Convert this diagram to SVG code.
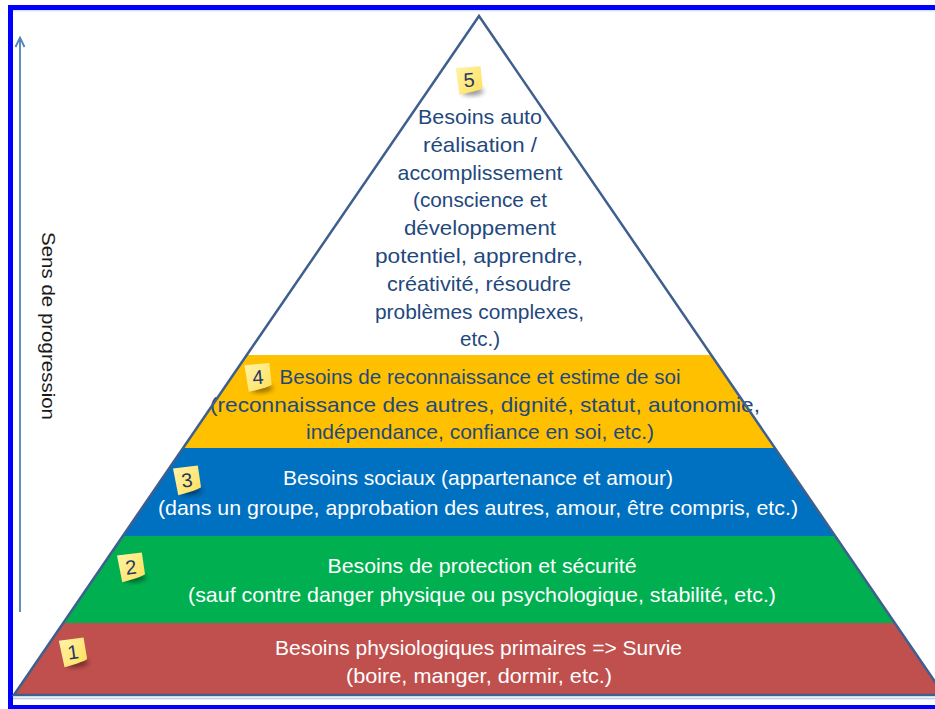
<svg xmlns="http://www.w3.org/2000/svg" width="935" height="709" viewBox="0 0 935 709">
  <defs>
    <style>
      .t { font-family: "Liberation Sans", Arial, sans-serif; font-size: 21px; text-anchor: middle; }
      .dark { fill: #1F497D; }
      .light { fill: #FFFFFF; }
      .num { font-family: "Liberation Sans", Arial, sans-serif; font-size: 20px; text-anchor: middle; fill: #1F3864; }
      .note { fill: url(#noteGrad); }
      .shadow { fill: #000; opacity: 0.45; filter: url(#blur); }
    </style>
    <linearGradient id="noteGrad" x1="0" y1="0" x2="1" y2="1">
      <stop offset="0" stop-color="#FFF3A6"/>
      <stop offset="1" stop-color="#FFDF5C"/>
    </linearGradient>
    <filter id="blur" x="-50%" y="-50%" width="200%" height="200%">
      <feGaussianBlur stdDeviation="2.5"/>
    </filter>
    <symbol id="badge" overflow="visible">
      <ellipse class="shadow" cx="3" cy="12" rx="11" ry="3.5"/>
      <path class="note" d="M-12.5,-13 L12.5,-13 L13,9 Q9,11.5 -10.5,14 Z"/>
    </symbol>
  </defs>

  <rect width="935" height="709" fill="#FFFFFF"/>

  <!-- frame -->
  <rect x="10.5" y="7.5" width="940" height="700" fill="none" stroke="#0000FF" stroke-width="5"/>
  <line x1="13" y1="698.5" x2="935" y2="698.5" stroke="#B8CCE4" stroke-width="1.5"/>
  <line x1="13" y1="10.8" x2="935" y2="10.8" stroke="#C6D9F1" stroke-width="1"/>

  <g id="level5">
    <polygon points="479,16 246.8,355 711.2,355" fill="#FFFFFF"/>
    <g transform="translate(469,80) rotate(-4)"><use href="#badge"/><text class="num" x="0" y="7">5</text></g>
    <text class="t dark" x="480" y="124" textLength="124" lengthAdjust="spacingAndGlyphs">Besoins auto</text>
    <text class="t dark" x="480" y="151.8" textLength="114" lengthAdjust="spacingAndGlyphs">réalisation /</text>
    <text class="t dark" x="480" y="179.6" textLength="165" lengthAdjust="spacingAndGlyphs">accomplissement</text>
    <text class="t dark" x="480" y="207.4" textLength="134" lengthAdjust="spacingAndGlyphs">(conscience et</text>
    <text class="t dark" x="480" y="235.2" textLength="152" lengthAdjust="spacingAndGlyphs">développement</text>
    <text class="t dark" x="479" y="263" textLength="208" lengthAdjust="spacingAndGlyphs">potentiel, apprendre,</text>
    <text class="t dark" x="479" y="290.8" textLength="184" lengthAdjust="spacingAndGlyphs">créativité, résoudre</text>
    <text class="t dark" x="479.5" y="318.6" textLength="209" lengthAdjust="spacingAndGlyphs">problèmes complexes,</text>
    <text class="t dark" x="480" y="346.4" textLength="40" lengthAdjust="spacingAndGlyphs">etc.)</text>
  </g>

  <g id="level4">
    <polygon points="246.8,355 711.2,355 774.9,448 183.1,448" fill="#FFC000"/>
    <text class="t dark" x="480" y="384" textLength="401" lengthAdjust="spacingAndGlyphs">Besoins de reconnaissance et estime de soi</text>
    <text class="t dark" x="485" y="411.5" textLength="550" lengthAdjust="spacingAndGlyphs">(reconnaissance des autres, dignité, statut, autonomie,</text>
    <text class="t dark" x="480" y="439" textLength="348" lengthAdjust="spacingAndGlyphs">indépendance, confiance en soi, etc.)</text>
    <g transform="translate(258,377) rotate(-5)"><use href="#badge"/><text class="num" x="0" y="7">4</text></g>
  </g>

  <g id="level3">
    <polygon points="183.1,448 774.9,448 835.2,536 122.8,536" fill="#0070C0"/>
    <text class="t light" x="478" y="485" textLength="390" lengthAdjust="spacingAndGlyphs">Besoins sociaux (appartenance et amour)</text>
    <text class="t light" x="478" y="515" textLength="640" lengthAdjust="spacingAndGlyphs">(dans un groupe, approbation des autres, amour, être compris, etc.)</text>
    <g transform="translate(187,480) rotate(-7)"><use href="#badge"/><text class="num" x="0" y="7">3</text></g>
  </g>

  <g id="level2">
    <polygon points="122.8,536 835.2,536 894.8,623 63.2,623" fill="#00B050"/>
    <text class="t light" x="482" y="573" textLength="309" lengthAdjust="spacingAndGlyphs">Besoins de protection et sécurité</text>
    <text class="t light" x="482" y="602" textLength="588" lengthAdjust="spacingAndGlyphs">(sauf contre danger physique ou psychologique, stabilité, etc.)</text>
    <g transform="translate(131,567) rotate(-7)"><use href="#badge"/><text class="num" x="0" y="7">2</text></g>
  </g>

  <g id="level1">
    <polygon points="63.2,623 894.8,623 944.1,695 13.9,695" fill="#C0504D"/>
    <text class="t light" x="478.5" y="655" textLength="407" lengthAdjust="spacingAndGlyphs">Besoins physiologiques primaires =&gt; Survie</text>
    <text class="t light" x="479" y="683" textLength="266" lengthAdjust="spacingAndGlyphs">(boire, manger, dormir, etc.)</text>
    <g transform="translate(73,652) rotate(-8)"><use href="#badge"/><text class="num" x="0" y="7">1</text></g>
  </g>

  <!-- pyramid outline -->
  <polygon points="479,16 13.9,695 944.1,695" fill="none" stroke="#3F5F8F" stroke-width="2.5" stroke-linejoin="miter"/>

  <g id="connectors">
    <line x1="20" y1="612" x2="20" y2="38" stroke="#4F81BD" stroke-width="1.8"/>
    <path d="M15.5,47 L20,37.5 L24.5,47" fill="none" stroke="#4F81BD" stroke-width="1.8"/>
  </g>

  <g id="axis-label">
    <text transform="translate(42,326) rotate(90)" x="0" y="0" font-family="'Liberation Sans', Arial, sans-serif" font-size="18" text-anchor="middle" fill="#1A1A1A" textLength="188" lengthAdjust="spacingAndGlyphs">Sens de progression</text>
  </g>
</svg>
